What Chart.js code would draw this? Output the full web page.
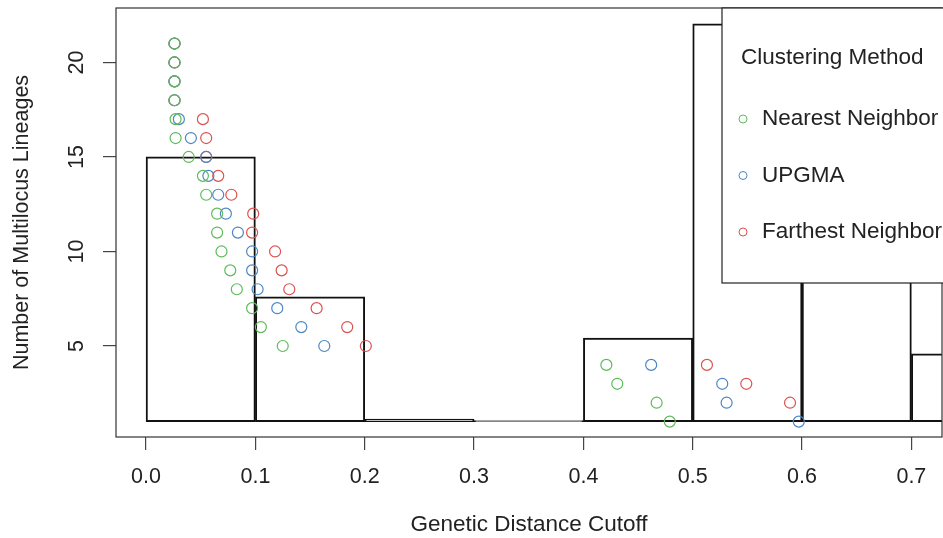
<!DOCTYPE html>
<html>
<head>
<meta charset="utf-8">
<script src="https://cdn.jsdelivr.net/npm/chart.js@4.4.1/dist/chart.umd.min.js"></script>
<style>
  html, body { margin: 0; padding: 0; background: #fff; }
  #wrap { width: 943px; height: 538px; }
</style>
</head>
<body>
<div id="wrap"><canvas id="mll-chart"></canvas></div>
<script>
// number of multilocus lineages (y) and the cutoff where each method reaches it (x)
const lineages = [21, 20, 19, 18, 17, 16, 15, 14, 13, 12, 11, 10, 9, 8, 7, 6, 5, 4, 3, 2, 1];
const nearestCutoffs = [0.026, 0.026, 0.026, 0.026, 0.027, 0.027, 0.039, 0.052, 0.055, 0.065, 0.065,
                        0.069, 0.077, 0.083, 0.097, 0.105, 0.125, 0.421, 0.431, 0.467, 0.479];
const upgmaCutoffs = [0.026, 0.026, 0.026, 0.026, 0.030, 0.041, 0.055, 0.057, 0.066, 0.073, 0.084,
                      0.097, 0.097, 0.102, 0.120, 0.142, 0.163, 0.462, 0.527, 0.531, 0.597];
const farthestCutoffs = [0.026, 0.026, 0.026, 0.026, 0.052, 0.055, 0.055, 0.066, 0.078, 0.098, 0.097,
                         0.118, 0.124, 0.131, 0.156, 0.184, 0.201, 0.513, 0.549, 0.589];

// histogram of pairwise distances drawn behind the points (bins of 0.1, baseline at 1)
const binCenters = [0.05, 0.15, 0.25, 0.35, 0.45, 0.55, 0.65, 0.75];
const binTops = [15, 7.6, 1.13, 1.05, 5.42, 22.04, 12, 4.58];
const binBase = 1;

const xTickValues = [0, 0.1, 0.2, 0.3, 0.4, 0.5, 0.6, 0.7];
const yTickValues = [5, 10, 15, 20];

const seriesNames = ["Nearest Neighbor", "UPGMA", "Farthest Neighbor"];
const seriesColors = ["#5DBB5A", "#4A87C4", "#D9534F"];

const FONT = "'Liberation Sans', Arial, sans-serif";
const TEXT = "#222";

function pts(xs) {
    return xs.map((x, i) => ({ x, y: lineages[i] }));
}

const seriesData = [pts(nearestCutoffs), pts(upgmaCutoffs), pts(farthestCutoffs)];

const frameAndLegend = {
    id: "frameAndLegend",
    afterDraw(chart) {
        const { ctx, chartArea: a, scales } = chart;
        ctx.save();

        // y tick labels are parallel to the axis, like base R
        ctx.fillStyle = TEXT;
        ctx.font = "21.5px " + FONT;
        ctx.textAlign = "center";
        ctx.textBaseline = "alphabetic";
        scales.y.ticks.forEach(t => {
            ctx.save();
            ctx.translate(a.left - 33, scales.y.getPixelForValue(t.value));
            ctx.rotate(-Math.PI / 2);
            ctx.fillText(String(t.value), 0, 0);
            ctx.restore();
        });

        // box round the plot
        ctx.strokeStyle = "#333";
        ctx.lineWidth = 1.2;
        ctx.strokeRect(a.left, a.top, a.right - a.left, a.bottom - a.top);

        // legend, top right, running off the page
        const lx = a.right - 220, ly = a.top;
        ctx.fillStyle = "#fff";
        ctx.fillRect(lx, ly, chart.width - lx + 10, 275);
        ctx.strokeStyle = "#222";
        ctx.lineWidth = 1.2;
        ctx.strokeRect(lx, ly, chart.width - lx + 10, 275);

        ctx.fillStyle = TEXT;
        ctx.font = "22.5px " + FONT;
        ctx.textAlign = "left";
        ctx.textBaseline = "middle";
        ctx.fillText("Clustering Method", lx + 19, ly + 50);
        seriesNames.forEach((name, i) => {
            const y = ly + 111 + i * 56.5;
            ctx.beginPath();
            ctx.arc(lx + 21, y, 4, 0, Math.PI * 2);
            ctx.strokeStyle = seriesColors[i];
            ctx.lineWidth = 1;
            ctx.stroke();
            ctx.fillStyle = TEXT;
            ctx.fillText(name, lx + 40, y);
        });
        ctx.restore();
    }
};

document.addEventListener("DOMContentLoaded", () => {
    const ctx = document.getElementById("mll-chart").getContext("2d");

    const pointSets = seriesNames.map((name, i) => ({
        type: "scatter",
        label: name,
        data: seriesData[i],
        borderColor: seriesColors[i],
        backgroundColor: "transparent",
        pointStyle: "circle",
        pointRadius: 5.5,
        pointBorderWidth: 1.2,
        order: 1
    }));

    new Chart(ctx, {
        type: "scatter",
        data: {
            datasets: [
                {
                    type: "bar",
                    label: "distances",
                    data: binCenters.map((x, i) => ({ x, y: [binBase, binTops[i]] })),
                    backgroundColor: "transparent",
                    borderColor: "#111",
                    borderWidth: 1.3,
                    borderSkipped: false,
                    barPercentage: 1,
                    categoryPercentage: 1,
                    order: 10
                },
                ...pointSets
            ]
        },
        options: {
            responsive: true,
            maintainAspectRatio: false,
            animation: false,
            layout: { autoPadding: false, padding: { top: 8, right: 1, left: 0, bottom: 0 } },
            plugins: {
                legend: { display: false },
                tooltip: { enabled: false }
            },
            scales: {
                x: {
                    type: "linear",
                    position: "bottom",
                    offset: false,
                    min: -0.0275,
                    max: 0.728,
                    afterBuildTicks: s => { s.ticks = xTickValues.map(v => ({ value: v })); },
                    afterFit: s => { s.height = 101; s.paddingLeft = 0; s.paddingRight = 0; },
                    border: { display: false },
                    grid: { display: true, offset: false, drawOnChartArea: false, drawTicks: true, tickLength: 13, color: "#444", lineWidth: 1.2 },
                    ticks: {
                        color: TEXT,
                        font: { family: FONT, size: 21.5 },
                        padding: 14,
                        maxRotation: 0,
                        callback: v => Number(v).toFixed(1)
                    },
                    title: {
                        display: true,
                        text: "Genetic Distance Cutoff",
                        color: TEXT,
                        font: { family: FONT, size: 22.5 },
                        padding: { top: 0, bottom: 0 }
                    }
                },
                y: {
                    type: "linear",
                    min: 0.185,
                    max: 22.88,
                    afterBuildTicks: s => { s.ticks = yTickValues.map(v => ({ value: v })); },
                    afterFit: s => { s.width = 116; s.paddingTop = 0; s.paddingBottom = 0; },
                    border: { display: false },
                    grid: { display: true, drawOnChartArea: false, drawTicks: true, tickLength: 13, color: "#444", lineWidth: 1.2 },
                    ticks: { display: false },
                    title: {
                        display: true,
                        text: "Number of Multilocus Lineages",
                        color: TEXT,
                        font: { family: FONT, size: 21.5 },
                        padding: { top: 9, bottom: 0 }
                    }
                }
            }
        },
        plugins: [frameAndLegend]
    });
});
</script>
</body>
</html>
